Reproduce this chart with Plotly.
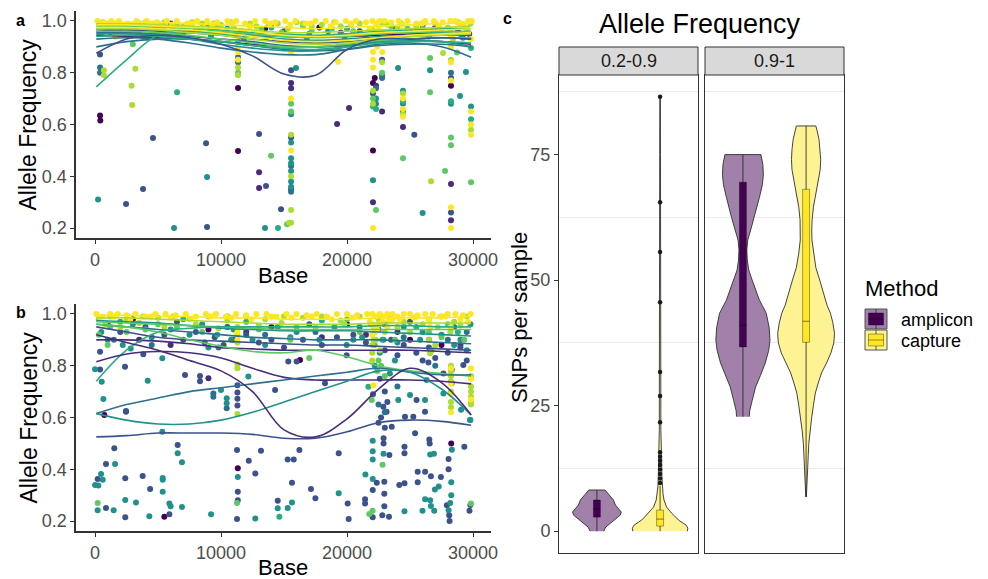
import plotly.graph_objects as go

FONT = "Liberation Sans, Arial, sans-serif"
W, H = 988, 579

# viridis steps used for the per-sample colouring
PURPLE, INDIGO, BLUE, TEALBLUE, TEAL = "#440154", "#472D7B", "#3B528B", "#2C728E", "#21918C"
JADE, GREEN, LIME, YELLOW = "#28AE80", "#5EC962", "#ADDC30", "#FDE725"

# ---------------------------------------------------------------- panel a points (base, allele frequency)
A_PURPLE = [(400, 0.635), (420, 0.615), (11350, 0.741), (11350, 0.498), (22060, 0.5), (1000, 0.97),
            (9800, 0.985), (13500, 0.97), (17800, 0.975), (22060, 0.76), (22200, 0.78), (23800, 0.972),
            (26000, 0.985), (28250, 0.75), (28800, 0.96)]
A_INDIGO = [(13020, 0.416), (13020, 0.355), (15560, 0.74), (15560, 0.76), (19210, 0.602), (20160, 0.664),
            (22060, 0.3), (22300, 0.75), (22780, 0.65), (24440, 0.59), (28250, 0.37), (28250, 0.23),
            (6000, 0.99), (21000, 0.96), (27000, 0.975), (29700, 0.95)]
A_BLUE = [(2460, 0.293), (3810, 0.351), (4600, 0.548), (8810, 0.528), (8890, 0.204), (13020, 0.563),
          (13570, 0.362), (14760, 0.273), (15560, 0.81), (15560, 0.55), (15560, 0.35), (22060, 0.72),
          (22780, 0.85), (25340, 0.56), (28250, 0.26), (28250, 0.78), (3500, 0.95), (8000, 0.965),
          (15000, 0.96), (19500, 0.955), (25000, 0.96), (400, 0.87)]
A_TEALBLUE = [(400, 0.82), (400, 0.8), (11350, 0.86), (11350, 0.84), (15560, 0.44), (15560, 0.34),
              (22300, 0.74), (22780, 0.79), (22780, 0.78), (28250, 0.8), (6500, 0.95), (17000, 0.95),
              (24000, 0.94), (29000, 0.95)]
A_TEAL = [(240, 0.31), (6270, 0.2), (8890, 0.397), (13490, 0.2), (15950, 0.818), (15560, 0.64),
          (15560, 0.53), (15560, 0.47), (15560, 0.45), (15560, 0.42), (15560, 0.38), (15560, 0.36),
          (22060, 0.385), (22300, 0.7), (22300, 0.68), (24050, 0.818), (24440, 0.73), (24440, 0.68),
          (24440, 0.65), (26000, 0.258), (26590, 0.81), (28250, 0.68), (28970, 0.71), (29440, 0.803),
          (29840, 0.67), (2000, 0.97), (5500, 0.96), (10500, 0.97), (12000, 0.95), (18500, 0.96),
          (27500, 0.96),
          (1200, 0.955), (3800, 0.94), (7000, 0.95), (9200, 0.94), (11800, 0.93), (13600, 0.935),
          (16800, 0.93), (19800, 0.94), (21500, 0.945), (23000, 0.93), (26500, 0.94), (29200, 0.935)]
A_JADE = [(6510, 0.725), (14520, 0.2), (22060, 0.67), (22300, 0.66), (24440, 0.69), (28250, 0.69),
          (29840, 0.896), (29840, 0.62), (1500, 0.985), (4800, 0.975), (9000, 0.98), (14000, 0.975),
          (20000, 0.97), (26000, 0.97), (11350, 0.92)]
A_GREEN = [(3000, 0.91), (11350, 0.8), (13970, 0.479), (15240, 0.215), (15560, 0.68), (15560, 0.65),
           (19290, 0.9), (22060, 0.7), (22300, 0.27), (22780, 0.8), (24440, 0.47), (26590, 0.857),
           (26590, 0.725), (27780, 0.42), (28250, 0.55), (28250, 0.52), (28730, 0.878), (29840, 0.377),
           (500, 0.95), (7500, 0.985), (16500, 0.98), (23500, 0.98),
           (900, 0.97), (2700, 0.96), (4200, 0.975), (6200, 0.97), (8200, 0.96), (9600, 0.975),
           (11600, 0.96), (13200, 0.97), (14800, 0.955), (17200, 0.965), (18800, 0.97), (20500, 0.96),
           (22000, 0.965), (24800, 0.97), (26800, 0.96), (28200, 0.965), (29500, 0.97)]
A_LIME = [(700, 0.81), (700, 0.79), (2900, 0.75), (2950, 0.675), (3200, 0.815), (1600, 0.94),
          (11350, 0.82), (11350, 0.79), (15400, 0.22), (15560, 0.56), (15560, 0.4), (15560, 0.27),
          (15560, 0.22), (22060, 0.73), (22060, 0.68), (22780, 0.84), (24440, 0.72), (24440, 0.64),
          (26670, 0.381), (27620, 0.876), (29840, 0.58), (28250, 0.85),
          (400, 0.98), (1100, 0.99), (2300, 0.975), (3500, 0.99), (4500, 0.985), (5500, 0.995),
          (7000, 0.98), (8500, 0.99), (10000, 0.985), (11000, 0.975), (12300, 0.99), (13800, 0.985),
          (15300, 0.97), (16500, 0.99), (18000, 0.985), (19500, 0.98), (21000, 0.99), (21900, 0.97),
          (22200, 0.95), (22500, 0.93), (23200, 0.985), (24300, 0.99), (25500, 0.98), (27000, 0.99),
          (28000, 0.975), (28400, 0.93), (29200, 0.985), (29800, 0.99),
          (600, 0.995), (1800, 0.99), (3000, 0.985), (4000, 0.995), (5000, 0.99), (6500, 0.985),
          (7700, 0.995), (9400, 0.99), (10800, 0.995), (12800, 0.98), (14500, 0.99), (16000, 0.995),
          (17200, 0.98), (19000, 0.995), (20300, 0.985), (22800, 0.99), (24000, 0.975), (26000, 0.99),
          (28800, 0.995)]
A_YELLOW = [(15560, 0.7), (15560, 0.5), (19290, 0.842), (22060, 0.2), (28250, 0.28), (28250, 0.2),
            (24440, 0.7), (24440, 0.66), (24440, 0.63), (29840, 0.65), (29840, 0.6), (29840, 0.56),
            (11350, 0.9), (11350, 0.88), (11350, 0.85), (11350, 0.94), (15560, 0.88), (15560, 0.92),
            (22060, 0.85), (22060, 0.82), (22060, 0.88), (22060, 0.92), (22400, 0.9), (22400, 0.95),
            (22800, 0.88), (28250, 0.77), (28250, 0.84), (28250, 0.9), (28250, 0.94), (29840, 0.93),
            (1800, 0.94),
            (200, 1.0), (700, 0.995), (1300, 1.0), (1900, 1.0), (2600, 0.99), (3300, 1.0), (4100, 1.0),
            (4900, 0.995), (5700, 1.0), (6500, 1.0), (7300, 0.99), (8100, 1.0), (8900, 1.0), (9700, 0.995),
            (10500, 1.0), (11200, 1.0), (11900, 0.99), (12700, 1.0), (13500, 1.0), (14300, 0.995),
            (15100, 1.0), (15900, 1.0), (16700, 0.99), (17500, 1.0), (18300, 1.0), (19100, 0.995),
            (19900, 1.0), (20700, 1.0), (21500, 0.995), (22000, 1.0), (22300, 0.99), (22600, 1.0),
            (23000, 1.0), (23500, 0.995), (24100, 1.0), (24800, 1.0), (25500, 0.99), (26200, 1.0),
            (26900, 1.0), (27600, 0.995), (28200, 1.0), (28600, 1.0), (29100, 0.99), (29600, 1.0),
            (29900, 1.0),
            (450, 0.985), (1600, 0.99), (2900, 0.98), (4500, 0.99), (6100, 0.985), (7700, 0.99),
            (9300, 0.985), (10900, 0.99), (12300, 0.98), (13900, 0.99), (15500, 0.985), (17100, 0.99),
            (18700, 0.98), (20300, 0.99), (21800, 0.97), (22200, 0.96), (22500, 0.975), (24400, 0.985),
            (25900, 0.99), (27300, 0.98), (28900, 0.99), (29400, 0.975)]

# ---------------------------------------------------------------- panel b points
B_PURPLE = [(740, 0.61), (5500, 0.217), (11330, 0.404), (28270, 0.5), (16270, 0.822), (9000, 0.94),
            (14000, 0.95), (25000, 0.9), (27500, 0.88), (20000, 0.96), (3000, 0.98)]
B_INDIGO = [(6000, 0.88), (9000, 0.752), (12000, 0.93), (18000, 0.91), (21500, 0.92), (26500, 0.9),
            (29000, 0.88), (3500, 0.9), (24000, 0.93)]
B_BLUE = [(2460, 0.622), (1530, 0.481), (870, 0.42), (210, 0.362), (2400, 0.365), (3780, 0.374),
          (4370, 0.324), (870, 0.25), (2400, 0.215), (5900, 0.226), (6560, 0.494), (11270, 0.474),
          (11330, 0.313), (11330, 0.28), (11270, 0.208), (12200, 0.433), (12720, 0.384), (13170, 0.472),
          (14500, 0.278), (15290, 0.438), (15770, 0.438), (15630, 0.348), (16220, 0.474), (17140, 0.324),
          (17490, 0.288), (19340, 0.462), (20050, 0.268), (20130, 0.208), (21430, 0.284), (21430, 0.268),
          (22040, 0.32), (22040, 0.215), (22360, 0.348), (22960, 0.352), (22960, 0.305), (22960, 0.257),
          (22800, 0.222), (23330, 0.217), (22900, 0.5), (22900, 0.52), (23360, 0.455), (24150, 0.339),
          (24560, 0.346), (24560, 0.487), (24560, 0.462), (25400, 0.539), (25610, 0.39), (25610, 0.35),
          (26200, 0.39), (26530, 0.515), (26560, 0.5), (26660, 0.373), (27450, 0.37), (27920, 0.261),
          (28110, 0.222), (28140, 0.2), (28060, 0.4), (28060, 0.44), (29310, 0.487), (29790, 0.262),
          (29720, 0.24),
          (400, 0.854), (400, 0.785), (2380, 0.796), (2460, 0.625), (3830, 0.844), (7140, 0.764),
          (8330, 0.76), (8330, 0.74), (11300, 0.725), (11300, 0.697), (11300, 0.672), (11300, 0.646),
          (14290, 0.706), (15340, 0.816), (16000, 0.816), (18250, 0.732), (19970, 0.84), (22060, 0.69),
          (22880, 0.642), (23140, 0.622), (23550, 0.564), (24600, 0.603), (25260, 0.603), (25520, 0.668),
          (26190, 0.622), (26460, 0.812), (27650, 0.77), (28310, 0.784), (28310, 0.733), (29230, 0.803),
          (22500, 0.58), (22700, 0.6), (23000, 0.56), (23200, 0.66), (23000, 0.7), (22600, 0.75),
          (2000, 0.93), (4000, 0.95), (5500, 0.92), (7000, 0.9), (8000, 0.93), (8700, 0.89), (9500, 0.91),
          (10200, 0.88), (11000, 0.9), (12000, 0.92), (13000, 0.89), (14000, 0.9), (15000, 0.87),
          (16500, 0.9), (18000, 0.88), (19200, 0.91), (20500, 0.92), (21500, 0.89), (23000, 0.86),
          (23500, 0.9), (24500, 0.88), (25500, 0.85), (26500, 0.87), (27000, 0.83), (28000, 0.85),
          (29000, 0.87), (29500, 0.82), (24000, 0.84), (26000, 0.82), (1000, 0.96), (6500, 0.97),
          (10500, 0.95), (17000, 0.96), (22500, 0.94), (25000, 0.97), (28500, 0.95)]
B_TEALBLUE = [(9390, 0.693), (9390, 0.68), (10450, 0.636), (22500, 0.65), (23000, 0.62), (24000, 0.72),
              (27000, 0.8), (1500, 0.9), (4500, 0.88), (9800, 0.87), (13500, 0.92), (17500, 0.93),
              (21000, 0.95), (24500, 0.91), (28000, 0.9), (29500, 0.93)]
B_TEAL = [(480, 0.382), (610, 0.36), (0, 0.339), (260, 0.337), (1590, 0.42), (5370, 0.366), (5370, 0.36),
          (5370, 0.313), (210, 0.242), (1480, 0.242), (2400, 0.281), (3250, 0.272), (4310, 0.219),
          (5900, 0.268), (6000, 0.257), (6900, 0.254), (6560, 0.462), (6900, 0.427), (9210, 0.226),
          (11330, 0.37), (12720, 0.21), (14500, 0.249), (15630, 0.272), (15290, 0.25), (19340, 0.307),
          (21460, 0.38), (22040, 0.362), (22040, 0.438), (22040, 0.47), (22040, 0.51), (22900, 0.46),
          (24560, 0.238), (26200, 0.284), (25990, 0.24), (26600, 0.457), (26900, 0.46), (26970, 0.322),
          (26600, 0.28), (26660, 0.258), (26920, 0.24), (27280, 0.333), (28060, 0.242), (28190, 0.27),
          (28270, 0.3), (28270, 0.35), (28320, 0.475), (29790, 0.59),
          (0, 0.786), (530, 0.738), (660, 0.671), (2830, 0.867), (4180, 0.742), (5340, 0.829),
          (5340, 0.545), (10000, 0.706), (10450, 0.674), (10450, 0.655), (12170, 0.758), (19970, 0.88),
          (24070, 0.668), (25000, 0.687), (26190, 0.668), (26320, 0.745), (27650, 0.693), (29050, 0.63),
          (29760, 0.59), (22200, 0.8), (22600, 0.85), (23400, 0.77), (23800, 0.82), (500, 0.93),
          (3000, 0.96), (6000, 0.94), (8500, 0.96), (11000, 0.94), (12500, 0.9), (14500, 0.95),
          (16000, 0.93), (19000, 0.95), (20500, 0.9), (23000, 0.96), (24500, 0.95), (26000, 0.93),
          (27500, 0.92), (29000, 0.9), (29800, 0.96),
          (1000, 0.9), (2200, 0.88), (4500, 0.91), (7500, 0.92), (9000, 0.87), (10800, 0.9),
          (13500, 0.88), (15500, 0.91), (17800, 0.9), (21200, 0.91), (22900, 0.9), (24000, 0.89),
          (25800, 0.9), (28500, 0.88), (29500, 0.86)]
B_JADE = [(14630, 0.217), (21690, 0.719), (2000, 0.97), (7000, 0.98), (12000, 0.97), (18000, 0.975),
          (22800, 0.9), (25500, 0.95), (28800, 0.93), (9700, 0.92)]
B_GREEN = [(210, 0.27), (11270, 0.27), (21770, 0.227), (22030, 0.24), (22820, 0.417), (21960, 0.668),
           (29840, 0.268), (5000, 0.96), (1200, 0.95), (15500, 0.9), (17000, 0.83), (22200, 0.88),
           (22500, 0.82), (23000, 0.76), (26700, 0.86), (28000, 0.96), (10500, 0.99), (20000, 0.98),
           (300, 0.92), (1000, 0.88), (2500, 0.93), (4000, 0.94), (6500, 0.95), (8500, 0.93), (13000, 0.94),
           (16000, 0.95), (21000, 0.93), (22400, 0.78), (22700, 0.8), (23800, 0.9), (26500, 0.93),
           (27500, 0.91), (29300, 0.9)]
B_LIME = [(11300, 0.79), (11300, 0.805), (11300, 0.614), (26590, 0.848), (22000, 0.85), (22100, 0.9),
          (22200, 0.93), (23000, 0.93), (28250, 0.8), (28250, 0.78), (28250, 0.76), (28250, 0.74),
          (28250, 0.7), (28250, 0.66), (28250, 0.64), (29840, 0.76), (29840, 0.72), (29840, 0.7),
          (29840, 0.68), (29840, 0.66), (29840, 0.65), (26500, 0.9), (27000, 0.88),
          (300, 0.98), (1200, 0.99), (2500, 0.975), (3800, 0.99), (5000, 0.985), (6200, 0.99),
          (7500, 0.98), (9000, 0.99), (10500, 0.975), (11300, 0.95), (12000, 0.99), (13500, 0.98),
          (15000, 0.99), (16500, 0.985), (18000, 0.99), (19500, 0.975), (21000, 0.99), (21900, 0.96),
          (22500, 0.98), (23500, 0.99), (24500, 0.97), (25500, 0.99), (26500, 0.98), (27500, 0.99),
          (28500, 0.97), (29500, 0.99),
          (800, 0.96), (2000, 0.95), (3500, 0.965), (5500, 0.95), (8000, 0.96), (9800, 0.945),
          (11300, 0.92), (11300, 0.89), (13000, 0.955), (14800, 0.965), (17500, 0.95), (19800, 0.96),
          (22000, 0.88), (22000, 0.82), (22300, 0.9), (22600, 0.86), (24000, 0.95), (25000, 0.93),
          (26000, 0.96), (27200, 0.95), (28200, 0.93), (29000, 0.955)]
B_YELLOW = [(22090, 0.725), (28250, 0.79), (28250, 0.73), (28250, 0.69), (28250, 0.62), (29840, 0.79),
            (29840, 0.75), (29840, 0.67), (11300, 0.93), (11300, 0.9), (22000, 0.92), (22000, 0.96),
            (22400, 0.94), (22800, 0.97), (23200, 0.95), (23600, 0.98), (26600, 0.95), (28250, 0.95),
            (100, 1.0), (600, 0.99), (1200, 1.0), (1800, 1.0), (2500, 0.995), (3200, 1.0), (4000, 0.99),
            (4800, 1.0), (5600, 1.0), (6400, 0.995), (7200, 1.0), (8000, 0.99), (8800, 1.0), (9600, 1.0),
            (10400, 0.99), (11200, 1.0), (12000, 0.995), (12800, 1.0), (13600, 1.0), (14400, 0.99),
            (15200, 1.0), (16000, 1.0), (16800, 0.995), (17600, 1.0), (18400, 0.99), (19200, 1.0),
            (20000, 1.0), (20800, 0.995), (21600, 1.0), (22000, 1.0), (22300, 0.99), (22600, 1.0),
            (22900, 0.99), (23200, 1.0), (23600, 1.0), (24000, 0.99), (24500, 1.0), (25000, 1.0),
            (25600, 0.995), (26200, 1.0), (26800, 1.0), (27400, 0.99), (28000, 1.0), (28600, 1.0),
            (29200, 0.995), (29800, 1.0),
            (400, 0.985), (1500, 0.99), (2800, 0.98), (4400, 0.99), (6000, 0.985), (7600, 0.98),
            (9200, 0.99), (10800, 0.985), (12400, 0.98), (14000, 0.99), (15600, 0.985), (17200, 0.99),
            (18800, 0.98), (20400, 0.985), (21800, 0.97), (22100, 0.95), (22200, 0.93), (22500, 0.96),
            (23300, 0.975), (24200, 0.98), (25300, 0.985), (26500, 0.975), (27800, 0.99), (29000, 0.98),
            (29600, 0.97)]

# ---------------------------------------------------------------- per-sample smooth fits (value at each knot)
KNOT_BASE = [100, 2500, 5000, 7500, 10000, 12500, 15000, 17500, 20000, 22500, 25000, 27500, 29850]
A_SMOOTH = [
    (PURPLE, [0.97, 0.97, 0.965, 0.96, 0.955, 0.945, 0.94, 0.94, 0.94, 0.945, 0.95, 0.95, 0.95]),
    (INDIGO, [0.945, 0.94, 0.935, 0.93, 0.92, 0.91, 0.9, 0.9, 0.905, 0.92, 0.925, 0.92, 0.91]),
    (BLUE, [0.96, 0.965, 0.96, 0.955, 0.945, 0.93, 0.92, 0.915, 0.92, 0.93, 0.94, 0.945, 0.945]),
    (TEALBLUE, [0.93, 0.935, 0.93, 0.915, 0.895, 0.88, 0.87, 0.87, 0.89, 0.91, 0.915, 0.9, 0.86]),
    (TEALBLUE, [0.955, 0.955, 0.95, 0.94, 0.93, 0.92, 0.905, 0.9, 0.905, 0.92, 0.93, 0.935, 0.93]),
    (TEALBLUE, [0.9, 0.92, 0.93, 0.93, 0.92, 0.905, 0.89, 0.885, 0.89, 0.905, 0.91, 0.91, 0.9]),
    (TEAL, [0.95, 0.95, 0.945, 0.93, 0.91, 0.895, 0.885, 0.885, 0.9, 0.92, 0.925, 0.92, 0.9]),
    (TEAL, [0.97, 0.97, 0.965, 0.96, 0.95, 0.94, 0.93, 0.925, 0.93, 0.94, 0.945, 0.95, 0.95]),
    (JADE, [0.745, 0.85, 0.945, 0.955, 0.95, 0.945, 0.94, 0.94, 0.945, 0.95, 0.955, 0.955, 0.95]),
    (JADE, [0.94, 0.945, 0.94, 0.93, 0.92, 0.905, 0.895, 0.89, 0.9, 0.915, 0.92, 0.92, 0.915]),
    (JADE, [0.985, 0.985, 0.98, 0.975, 0.965, 0.955, 0.95, 0.945, 0.95, 0.96, 0.965, 0.97, 0.97]),
    (GREEN, [0.96, 0.96, 0.955, 0.945, 0.93, 0.915, 0.9, 0.9, 0.91, 0.925, 0.93, 0.935, 0.935]),
    (GREEN, [0.98, 0.98, 0.975, 0.97, 0.96, 0.95, 0.94, 0.935, 0.94, 0.95, 0.955, 0.96, 0.96]),
    (LIME, [0.97, 0.97, 0.965, 0.955, 0.945, 0.93, 0.915, 0.91, 0.915, 0.93, 0.94, 0.945, 0.95]),
    (LIME, [0.99, 0.99, 0.985, 0.98, 0.975, 0.965, 0.955, 0.955, 0.96, 0.965, 0.97, 0.975, 0.98]),
    (YELLOW, [0.975, 0.975, 0.97, 0.965, 0.955, 0.94, 0.925, 0.92, 0.925, 0.935, 0.945, 0.95, 0.955]),
    (YELLOW, [0.985, 0.985, 0.98, 0.975, 0.97, 0.96, 0.945, 0.94, 0.945, 0.955, 0.96, 0.965, 0.97]),
    (YELLOW, [0.995, 0.995, 0.995, 0.99, 0.985, 0.98, 0.975, 0.97, 0.975, 0.98, 0.985, 0.99, 0.99]),
    (BLUE, [0.875, 0.93, 0.945, 0.935, 0.91, 0.865, 0.795, 0.79, 0.89, 0.93, 0.93, 0.935, 0.93]),
]
B_SMOOTH = [
    (BLUE, [0.95, 0.93, 0.91, 0.9, 0.895, 0.89, 0.885, 0.88, 0.88, 0.875, 0.87, 0.865, 0.86]),
    (INDIGO, [0.9, 0.9, 0.895, 0.885, 0.87, 0.865, 0.86, 0.86, 0.86, 0.86, 0.86, 0.855, 0.85]),
    (TEALBLUE, [0.96, 0.95, 0.94, 0.93, 0.92, 0.91, 0.905, 0.9, 0.9, 0.9, 0.895, 0.89, 0.885]),
    (TEAL, [0.975, 0.97, 0.965, 0.955, 0.945, 0.94, 0.935, 0.935, 0.935, 0.93, 0.925, 0.92, 0.915]),
    (GREEN, [0.97, 0.965, 0.96, 0.955, 0.95, 0.945, 0.94, 0.94, 0.94, 0.94, 0.94, 0.94, 0.94]),
    (LIME, [0.985, 0.985, 0.98, 0.975, 0.97, 0.965, 0.96, 0.96, 0.96, 0.965, 0.965, 0.965, 0.965]),
    (YELLOW, [0.995, 0.995, 0.99, 0.99, 0.985, 0.985, 0.98, 0.98, 0.98, 0.985, 0.985, 0.985, 0.99]),
    (JADE, [0.74, 0.86, 0.93, 0.945, 0.95, 0.95, 0.95, 0.95, 0.95, 0.955, 0.955, 0.95, 0.95]),
    (GREEN, [0.96, 0.95, 0.93, 0.9, 0.875, 0.855, 0.85, 0.86, 0.835, 0.8, 0.78, 0.77, 0.76]),
    (INDIGO, [0.815, 0.845, 0.855, 0.85, 0.83, 0.79, 0.755, 0.745, 0.745, 0.745, 0.745, 0.74, 0.73]),
    (TEALBLUE, [0.615, 0.65, 0.675, 0.70, 0.715, 0.73, 0.745, 0.76, 0.775, 0.79, 0.775, 0.765, 0.765]),
    (TEAL, [0.615, 0.59, 0.575, 0.575, 0.59, 0.62, 0.66, 0.7, 0.74, 0.78, 0.775, 0.71, 0.61]),
    (BLUE, [0.525, 0.53, 0.54, 0.54, 0.54, 0.535, 0.52, 0.52, 0.545, 0.58, 0.59, 0.585, 0.57]),
    (INDIGO, [0.92, 0.89, 0.86, 0.82, 0.78, 0.70, 0.552, 0.525, 0.595, 0.71, 0.79, 0.735, 0.61]),
]

# ---------------------------------------------------------------- panel c: SNPs per sample
METHODS = ["amplicon", "capture"]
FACETS = ["0.2-0.9", "0.9-1"]
METHOD_FILL = {"amplicon": "#440154", "capture": "#FDE725"}
METHOD_SOFT = {"amplicon": "#a180a9", "capture": "#fef392"}

# kernel density profiles (value, relative density)
AMP_LOW_VAL = [0, 0.8, 1.6, 2.4, 3.2, 3.8, 4.4, 5.2, 6.2, 7.2, 8.2]
AMP_LOW_DEN = [7, 9, 14, 19, 24, 25, 22, 19, 17, 13, 8.3]
CAP_LOW_VAL = [0, 0.6, 1.2, 2.2, 3.0, 3.6, 4.8, 6.2, 7.5, 8.8, 11, 12.7, 14, 16, 20, 30, 45, 60, 75, 86.5]
CAP_LOW_DEN = [28, 28.5, 26.7, 19, 15, 11.7, 6.7, 4, 3, 2.3, 1.8, 1.7, 1.8, 1.3, 0.8, 0.6, 0.5, 0.4, 0.4, 0.3]
AMP_HIGH_VAL = [22.8, 24, 26, 28.7, 31, 33.5, 36, 38, 40.5, 43.4, 46, 48, 50, 52, 54, 56, 58, 60,
                62.5, 64.5, 66.5, 69, 71, 73, 75]
AMP_HIGH_DEN = [6.5, 7, 9.5, 13, 18, 23, 26.5, 27.8, 27, 24, 17, 13, 9.5, 6, 4.5, 4, 5, 8,
                11.7, 14.5, 17, 20, 21, 20.5, 18.5]
CAP_HIGH_VAL = [6.8, 9, 12, 15, 17.5, 20, 22.7, 25, 27.5, 29.5, 31.5, 33.5, 35.5, 37.5, 39.4, 41.5,
                43.4, 45, 47.5, 50, 52.5, 55.4, 58, 60, 62, 64.5, 67, 69.9, 72, 74, 76, 78, 80, 80.7]
CAP_HIGH_DEN = [0.3, 0.6, 1.2, 2.2, 2.8, 4, 5.8, 7.5, 9.5, 12.5, 15.8, 21, 25.5, 28.5, 29.2, 27.5,
                25, 21.5, 18, 14, 10, 7.5, 6, 5.8, 6.2, 7.5, 10, 12.5, 14.5, 15, 14.5, 13.3, 11, 10]

# box statistics: lower whisker, Q1, median, Q3, upper whisker
AMP_LOW_BOX = [0, 2.8, 4.4, 6.2, 8.2]
CAP_LOW_BOX = [0, 1.0, 2.4, 4.2, 9.0]
AMP_HIGH_BOX = [22.8, 36.7, 41.0, 69.5, 75]
CAP_HIGH_BOX = [6.8, 37.6, 41.8, 68.1, 80.7]
CAP_LOW_OUTLIERS = [9.6, 10.5, 11.4, 12.3, 13.2, 14.0, 14.8, 15.7, 21.7, 26.9, 31.7, 45.6, 55.6, 65.5, 86.5]

BASE_TICKS = [0, 10000, 20000, 30000]
FREQ_TICKS = [0.2, 0.4, 0.6, 0.8, 1.0]
SNP_TICKS = [0, 25, 50, 75]

fig = go.Figure()


def add_points(pts, color, xa, ya):
    fig.add_trace(go.Scatter(
        x=[p[0] for p in pts], y=[p[1] for p in pts], mode="markers", xaxis=xa, yaxis=ya,
        marker=dict(color=color, size=6, line=dict(width=0)), hoverinfo="skip", showlegend=False))


def add_smooths(fits, xa, ya):
    for color, freqs in fits:
        fig.add_trace(go.Scatter(
            x=KNOT_BASE, y=freqs, mode="lines", xaxis=xa, yaxis=ya,
            line=dict(color=color, width=1.6, shape="spline", smoothing=1.0),
            hoverinfo="skip", showlegend=False))


for pts, col in [(A_PURPLE, PURPLE), (A_INDIGO, INDIGO), (A_BLUE, BLUE), (A_TEALBLUE, TEALBLUE),
                 (A_TEAL, TEAL), (A_JADE, JADE), (A_GREEN, GREEN), (A_LIME, LIME), (A_YELLOW, YELLOW)]:
    add_points(pts, col, "x", "y")
add_smooths(A_SMOOTH, "x", "y")

for pts, col in [(B_PURPLE, PURPLE), (B_INDIGO, INDIGO), (B_BLUE, BLUE), (B_TEALBLUE, TEALBLUE),
                 (B_TEAL, TEAL), (B_JADE, JADE), (B_GREEN, GREEN), (B_LIME, LIME), (B_YELLOW, YELLOW)]:
    add_points(pts, col, "x2", "y2")
add_smooths(B_SMOOTH, "x2", "y2")

# violins + boxplots, densities scaled so the widest violin spans 0.9 of a category slot
DEN_MAX = max(AMP_LOW_DEN + CAP_LOW_DEN + AMP_HIGH_DEN + CAP_HIGH_DEN)
HALF_SCALE = 0.45 / DEN_MAX
BOX_HALF = 0.055
groups = [
    ("x3", "y3", "amplicon", AMP_LOW_VAL, AMP_LOW_DEN, AMP_LOW_BOX, []),
    ("x3", "y3", "capture", CAP_LOW_VAL, CAP_LOW_DEN, CAP_LOW_BOX, CAP_LOW_OUTLIERS),
    ("x4", "y4", "amplicon", AMP_HIGH_VAL, AMP_HIGH_DEN, AMP_HIGH_BOX, []),
    ("x4", "y4", "capture", CAP_HIGH_VAL, CAP_HIGH_DEN, CAP_HIGH_BOX, []),
]
for xa, ya, method, vals, dens, box, outl in groups:
    cx = METHODS.index(method) + 1
    half = [d * HALF_SCALE for d in dens]
    vx = [cx + h for h in half] + [cx - h for h in half[::-1]]
    vy = list(vals) + list(vals[::-1])
    fig.add_trace(go.Scatter(x=vx, y=vy, fill="toself", mode="lines", xaxis=xa, yaxis=ya,
                             fillcolor=METHOD_SOFT[method], line=dict(color="#2f2f2f", width=0.9),
                             hoverinfo="skip", showlegend=False))
    lo, q1, med, q3, hi = box
    fig.add_trace(go.Scatter(x=[cx, cx], y=[lo, hi], mode="lines", xaxis=xa, yaxis=ya,
                             line=dict(color="rgba(30,30,30,0.8)", width=1), hoverinfo="skip",
                             showlegend=False))
    fig.add_trace(go.Scatter(x=[cx - BOX_HALF, cx + BOX_HALF, cx + BOX_HALF, cx - BOX_HALF, cx - BOX_HALF],
                             y=[q1, q1, q3, q3, q1], fill="toself", mode="lines", xaxis=xa, yaxis=ya,
                             fillcolor=METHOD_FILL[method], line=dict(color="rgba(0,0,0,0.35)", width=1),
                             hoverinfo="skip", showlegend=False))
    fig.add_trace(go.Scatter(x=[cx - BOX_HALF, cx + BOX_HALF], y=[med, med], mode="lines",
                             xaxis=xa, yaxis=ya, line=dict(color="rgba(0,0,0,0.4)", width=1.2),
                             hoverinfo="skip", showlegend=False))
    if outl:
        fig.add_trace(go.Scatter(x=[cx] * len(outl), y=outl, mode="markers", xaxis=xa, yaxis=ya,
                                 marker=dict(color="#1a1a1a", size=4.5), hoverinfo="skip",
                                 showlegend=False))


def px(x):
    return x / W


def py(y):
    return 1 - y / H


AXIS_LINE = "#333333"
TICK_FONT = dict(family=FONT, size=18, color="#4d4d4d")
scatter_x = dict(range=[-1495, 31395], tickvals=BASE_TICKS, ticktext=[str(v) for v in BASE_TICKS],
                 ticks="outside", ticklen=4, tickcolor=AXIS_LINE, tickwidth=1.2, showline=True,
                 linecolor=AXIS_LINE, linewidth=1.5, showgrid=False, zeroline=False, tickfont=TICK_FONT,
                 automargin=False)
scatter_y = dict(range=[0.16, 1.04], tickvals=FREQ_TICKS, ticktext=[f"{v:.1f}" for v in FREQ_TICKS],
                 ticks="outside", ticklen=4, tickcolor=AXIS_LINE, tickwidth=1.2, showline=True,
                 linecolor=AXIS_LINE, linewidth=1.5, showgrid=False, zeroline=False, tickfont=TICK_FONT,
                 automargin=False)
facet_x = dict(range=[0.4, 2.6], showticklabels=False, ticks="", showgrid=False, zeroline=False,
               showline=True, mirror=True, linecolor=AXIS_LINE, linewidth=1, automargin=False)
facet_y = dict(range=[-4.35, 90.85], showgrid=False, zeroline=False, showline=True, mirror=True,
               linecolor=AXIS_LINE, linewidth=1, domain=[py(553), py(75)], automargin=False,
               minor=dict(tickvals=[12.5, 37.5, 62.5, 87.5], showgrid=True, gridcolor="#ebebeb",
                          gridwidth=1, ticks=""))

fig.update_layout(
    template="none",
    width=W, height=H, autosize=False, margin=dict(l=0, r=0, t=0, b=0, pad=0, autoexpand=False),
    paper_bgcolor="white", plot_bgcolor="white", showlegend=False,
    font=dict(family=FONT, color="#000000"),
    xaxis=dict(scatter_x, domain=[px(76.2), px(490.6)], anchor="y"),
    yaxis=dict(scatter_y, domain=[py(238.4), py(10.6)], anchor="x"),
    xaxis2=dict(scatter_x, domain=[px(76.2), px(490.6)], anchor="y2"),
    yaxis2=dict(scatter_y, domain=[py(531.4), py(303.6)], anchor="x2"),
    xaxis3=dict(facet_x, domain=[px(559), px(698)], anchor="y3"),
    yaxis3=dict(facet_y, anchor="x3", tickvals=SNP_TICKS, ticks="outside", ticklen=4,
                tickcolor=AXIS_LINE, tickfont=TICK_FONT),
    xaxis4=dict(facet_x, domain=[px(705), px(844)], anchor="y4"),
    yaxis4=dict(facet_y, anchor="x4", showticklabels=False, ticks=""),
)

shapes = []
annotations = []
# facet strips
for i, (x0, x1) in enumerate([(559, 698), (705, 844)]):
    shapes.append(dict(type="rect", xref="paper", yref="paper", x0=px(x0), x1=px(x1), y0=py(75), y1=py(47),
                       fillcolor="#d9d9d9", line=dict(color=AXIS_LINE, width=1)))
    annotations.append(dict(xref="paper", yref="paper", x=px((x0 + x1) / 2), y=py(61), text=FACETS[i],
                            showarrow=False, font=dict(family=FONT, size=18, color="#1a1a1a"),
                            xanchor="center", yanchor="middle"))

# legend keys
for j, method in enumerate(METHODS):
    top = 309 + j * 21
    shapes.append(dict(type="rect", xref="paper", yref="paper", x0=px(865), x1=px(887), y0=py(top + 20),
                       y1=py(top), fillcolor=METHOD_SOFT[method], line=dict(color="#555555", width=1)))
    shapes.append(dict(type="line", xref="paper", yref="paper", x0=px(876), x1=px(876), y0=py(top + 20),
                       y1=py(top), line=dict(color="rgba(30,30,30,0.7)", width=1)))
    shapes.append(dict(type="rect", xref="paper", yref="paper", x0=px(868.5), x1=px(883.5), y0=py(top + 16),
                       y1=py(top + 4), fillcolor=METHOD_FILL[method],
                       line=dict(color="rgba(0,0,0,0.35)", width=1)))
    shapes.append(dict(type="line", xref="paper", yref="paper", x0=px(868.5), x1=px(883.5), y0=py(top + 10),
                       y1=py(top + 10), line=dict(color="rgba(0,0,0,0.4)", width=1)))
    annotations.append(dict(xref="paper", yref="paper", x=px(899), y=py(top + 10.5), text=method,
                            showarrow=False, font=dict(family=FONT, size=18, color="#000000"),
                            xanchor="left", yanchor="middle"))
fig.update_layout(shapes=shapes)

texts = [
    dict(x=28, y=124.5, text="Allele Frequency", size=23, angle=-90),
    dict(x=28, y=417.5, text="Allele Frequency", size=23, angle=-90),
    dict(x=283, y=276, text="Base", size=22, angle=0),
    dict(x=283, y=567, text="Base", size=22, angle=0),
    dict(x=519, y=318, text="SNPs per sample", size=22, angle=-90),
    dict(x=700, y=24, text="Allele Frequency", size=27, angle=0),
]
for t in texts:
    annotations.append(dict(xref="paper", yref="paper", x=px(t["x"]), y=py(t["y"]), text=t["text"],
                            textangle=t["angle"], showarrow=False, xanchor="center", yanchor="middle",
                            font=dict(family=FONT, size=t["size"], color="#000000")))
annotations.append(dict(xref="paper", yref="paper", x=px(863), y=py(288), text="Method", showarrow=False,
                        xanchor="left", yanchor="middle", font=dict(family=FONT, size=22, color="#000000")))
for letter, x, y in [("a", 20, 20), ("b", 21, 312), ("c", 508, 19)]:
    annotations.append(dict(xref="paper", yref="paper", x=px(x), y=py(y), text=f"<b>{letter}</b>",
                            showarrow=False, xanchor="center", yanchor="middle",
                            font=dict(family=FONT, size=16, color="#000000")))
fig.update_layout(annotations=annotations)

fig.write_html("out.html")
